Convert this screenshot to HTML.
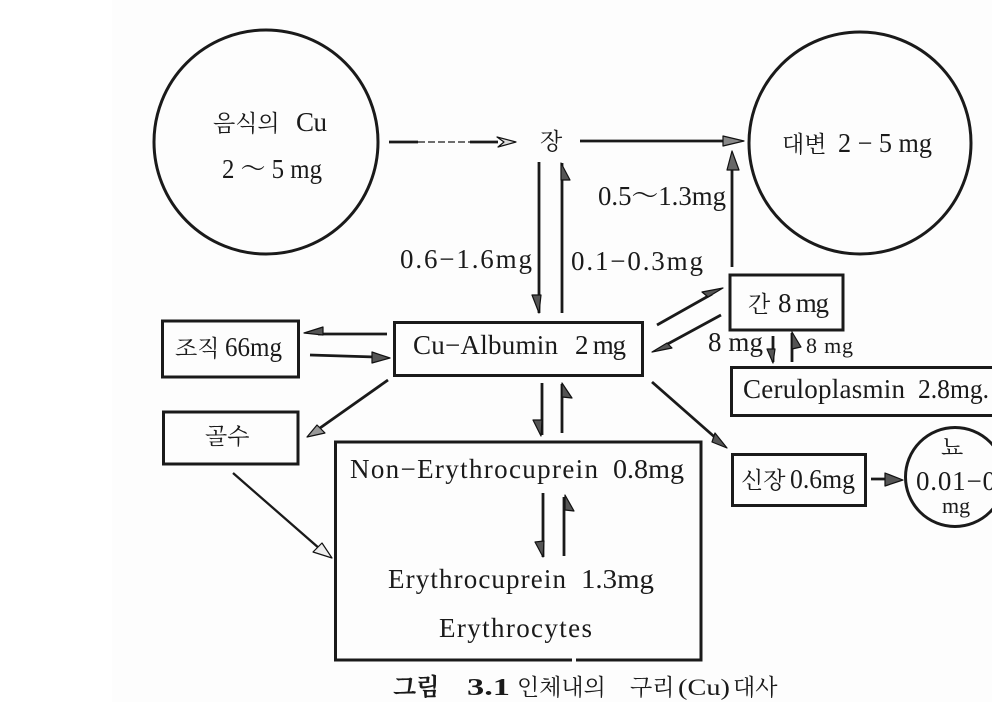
<!DOCTYPE html>
<html><head><meta charset="utf-8"><style>
html,body{margin:0;padding:0;background:#fdfdfd;overflow:hidden}
svg{display:block}
text{font-family:"Liberation Serif","Noto Serif CJK SC","Noto Sans CJK KR",serif;fill:#1a1a1a;font-size:27px}
.k{font-size:23px}
.s{font-size:22px}
.c{font-size:23px}
.b{font-size:24px;font-weight:bold}
</style></head><body>
<svg width="992" height="702" viewBox="0 0 992 702" xmlns="http://www.w3.org/2000/svg">
<rect width="992" height="702" fill="#fdfdfd"/>
<rect width="112" height="702" fill="#fff"/>
<g fill="none" stroke="#1a1a1a" stroke-width="3">
<circle cx="266" cy="142" r="112"/>
<circle cx="860" cy="143" r="111"/>
<circle cx="955" cy="477" r="49.5" stroke-width="3"/>
<rect x="394.500" y="322.500" width="248" height="53"/>
<rect x="162.500" y="321" width="136" height="56"/>
<rect x="163.500" y="412" width="134.500" height="52"/>
<rect x="335.500" y="442" width="365.500" height="218"/>
<rect x="730" y="275" width="113" height="55"/>
<rect x="731.500" y="367.500" width="270" height="48"/>
<rect x="732.500" y="454.500" width="133" height="51"/>
</g>
<rect x="572" y="657" width="4" height="6" fill="#fdfdfd"/>
<g stroke="#1a1a1a" stroke-width="2.800" fill="none">
<path d="M389 142H418"/><path d="M418 142H470" stroke-width="1.300" stroke-dasharray="7 3"/><path d="M470 142H498"/>
<path d="M580 141H726"/>
<path d="M539 162V313"/>
<path d="M562 163V313"/>
<path d="M732 267V168"/>
<path d="M657 325L712 294"/>
<path d="M721 315L664 346"/>
<path d="M773 336V362"/>
<path d="M792 333V362"/>
<path d="M387 334H318"/>
<path d="M310 355L375 357"/>
<path d="M388 380L320 428"/>
<path d="M233 473L320 549" stroke-width="2.300"/>
<path d="M652 382L718 440"/>
<path d="M542 383V435"/>
<path d="M562 384V433"/>
<path d="M543 493V557"/>
<path d="M564 497V556"/>
<path d="M871 479H888"/>
</g>
<g fill="#555" stroke="#111" stroke-width="1.200" stroke-linejoin="round">
<path d="M497 137L516 142L498 147L504 142Z" fill="#ddd"/>
<path d="M723 136L744 141L723 146Z" fill="#888"/>
<path d="M732 151L739 170H727Z" fill="#666"/>
<path d="M532 295L539 313L541 295Z"/>
<path d="M561 163L570 180H561Z"/>
<path d="M723 288L702 292L708 297Z"/>
<path d="M652 352L667 343L672 348Z"/>
<path d="M767 349L773 363L775 349Z"/>
<path d="M792 332L801 347L792 349Z"/>
<path d="M304 333L323 327V335Z"/>
<path d="M390 358L372 352V363Z"/>
<path d="M307 437L317 425L325 433Z" fill="#999"/>
<path d="M332 558L322 543L313 552Z" fill="#eee"/>
<path d="M727 448L715 433L712 442Z"/>
<path d="M533 420L541 436L542 420Z"/>
<path d="M562 383L572 398L562 397Z"/>
<path d="M535 542L543 557L544 541Z"/>
<path d="M565 495L574 511L565 510Z"/>
<path d="M903 480L885 473V486Z"/>
</g>
<text class="k" x="213" y="131">음식의</text><text x="296" y="131" textLength="31">Cu</text>
<text x="222" y="178" textLength="100" lengthAdjust="spacingAndGlyphs">2 ～ 5 mg</text>
<text class="k" x="540" y="149">장</text>
<text class="k" x="782" y="152">대변</text><text x="838" y="152" textLength="94" lengthAdjust="spacingAndGlyphs">2 − 5 mg</text>
<text x="598" y="205" textLength="128" lengthAdjust="spacingAndGlyphs">0.5～1.3mg</text>
<text x="400" y="268" textLength="132">0.6−1.6mg</text>
<text x="571" y="270" textLength="132">0.1−0.3mg</text>
<text class="k" x="748" y="312">간</text><text x="778" y="312" textLength="51">8 mg</text>
<text x="708" y="351" textLength="55">8 mg</text>
<text x="806" y="353" class="s" textLength="47">8 mg</text>
<text x="413" y="354" textLength="145">Cu−Albumin</text><text x="575" y="354" textLength="51">2 mg</text>
<text class="k" x="175" y="356">조직</text><text x="225" y="356" textLength="57" lengthAdjust="spacingAndGlyphs">66mg</text>
<text class="k" x="205" y="444">골수</text>
<text x="743" y="398" textLength="162">Ceruloplasmin</text><text x="918" y="398" textLength="71" lengthAdjust="spacingAndGlyphs">2.8mg.</text>
<text class="k" x="741" y="488">신장</text><text x="790" y="488" textLength="65" lengthAdjust="spacingAndGlyphs">0.6mg</text>
<text class="k" x="941" y="455">뇨</text>
<text x="916" y="490" textLength="80">0.01−0</text>
<text x="942" y="513" class="s">mg</text>
<text x="350" y="478" textLength="248">Non−Erythrocuprein</text><text x="613" y="478" textLength="71" lengthAdjust="spacingAndGlyphs">0.8mg</text>
<text x="388" y="588" textLength="178">Erythrocuprein</text><text x="581" y="588" textLength="73" lengthAdjust="spacingAndGlyphs">1.3mg</text>
<text x="439" y="637" textLength="153">Erythrocytes</text>
<text x="393" y="695" class="b">그림</text>
<text x="467" y="695" class="b" textLength="43" lengthAdjust="spacingAndGlyphs">3.1</text>
<text x="517" y="695" class="c">인체내의</text>
<text x="630" y="695" class="c">구리</text>
<text x="678" y="695" class="c" textLength="52" lengthAdjust="spacingAndGlyphs">(Cu)</text>
<text x="733" y="695" class="c">대사</text>
</svg>
</body></html>
